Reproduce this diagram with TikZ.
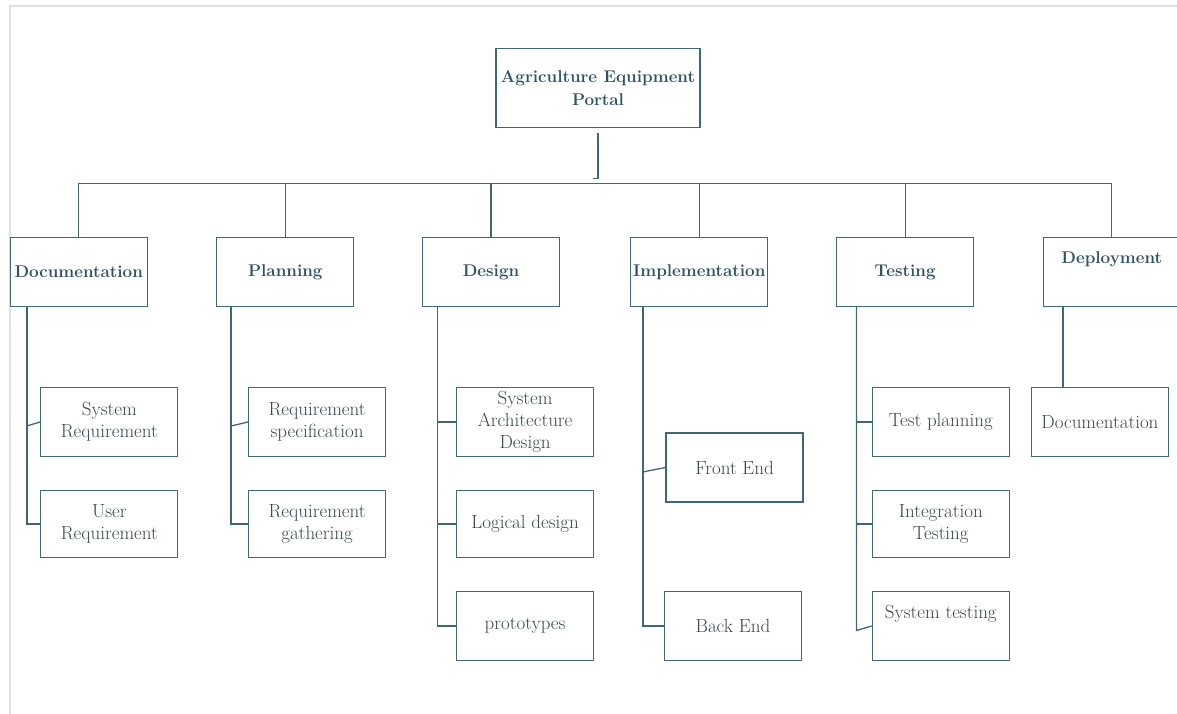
\documentclass[tikz,border=0pt]{standalone}
\usepackage{fontspec}
\definecolor{linecol}{HTML}{3E6872}
\definecolor{headcol}{HTML}{2C5263}
\definecolor{leafcol}{HTML}{3A4749}
\begin{document}
\begin{tikzpicture}[x=1pt,y=-1pt,
    box/.style={draw=linecol,line width=1.3pt,rectangle,inner sep=0pt,align=center,minimum width=137pt,minimum height=69pt},
    head/.style={box,font=\fontsize{17}{22.5}\selectfont\bfseries,text=headcol},
    leaf/.style={box,font=\fontsize{19}{22}\selectfont,text=leafcol},
    link/.style={draw=linecol,line width=1.3pt}]
        \useasboundingbox (0,0) rectangle (1177,714);
        \draw[black!12,line width=1.5pt] (10,714) -- (10,6) -- (1177,6);
        \node[head,minimum width=204pt,minimum height=79pt] (root) at (598,88) {Agriculture Equipment\\Portal};
        \node[head] (doc) at (78.7,272) {Documentation};
        \node[head] (plan) at (285.3,272) {Planning};
        \node[head] (design) at (491,272) {Design};
        \node[head] (impl) at (699.3,272) {Implementation};
        \node[head] (test) at (905.2,272) {Testing};
        \node[head] (deploy) at (1111.7,272) {Deployment\\ \strut};
        \node[leaf] (sysreq) at (109.3,422) {System\\Requirement};
        \node[leaf,minimum height=67pt] (userreq) at (109.3,524) {User\\Requirement};
        \node[leaf] (reqspec) at (317.1,422) {Requirement\\specification};
        \node[leaf,minimum height=67pt] (reqgath) at (317.1,524) {Requirement\\gathering};
        \node[leaf] (sad) at (525.1,422) {System\\Architecture\\Design};
        \node[leaf,minimum height=67pt] (logical) at (525.1,524) {Logical design};
        \node[leaf] (proto) at (525.1,626) {prototypes};
        \node[leaf] (frontend) at (734.6,467.5) {Front End};
        \node[leaf] (backend) at (732.9,626) {Back End};
        \node[leaf] (testplan) at (940.8,422) {Test planning};
        \node[leaf,minimum height=67pt] (integ) at (940.8,524) {Integration\\Testing};
        \node[leaf] (systest) at (940.8,626) {System testing\\ \strut};
        \node[leaf] (docu) at (1099.9,422) {Documentation};
        \coordinate (bus) at (0,183.3);
        \draw[link] (root.south) ++(0,5) -- ++(0,45.6) -- ++(-5,0);
        \draw[link] (doc.north) -- (doc.north |- bus) -- (deploy.north |- bus) -- (deploy.north);
        \foreach \n in {plan,design,impl,test}
            \draw[link] (\n.north) -- (\n.north |- bus);
        \draw[link] (doc.south west) ++(17.3,0) |- (userreq.west);
        \draw[link] (sysreq.west) -- ++(-13.4,4);
        \draw[link] (plan.south west) ++(14.9,0) |- (reqgath.west);
        \draw[link] (reqspec.west) -- ++(-16.8,4);
        \draw[link] (design.south west) ++(15.5,0) |- (proto.west);
        \foreach \n in {sad,logical}
            \draw[link] (\n.west) -- ++(-18,0);
        \draw[link] (impl.south west) ++(12.9,0) |- (backend.west);
        \draw[link] (frontend.west) -- ++(-22.4,4.4);
        \draw[link] (test.south west) ++(20.5,0) -- ++(0,323.3) -- (systest.west);
        \foreach \n in {testplan,integ}
            \draw[link] (\n.west) -- ++(-14.8,0);
        \draw[link] (deploy.south west) ++(20.3,0) coordinate (dtop) -- (dtop |- docu.north);
    \end{tikzpicture}
\end{document}
